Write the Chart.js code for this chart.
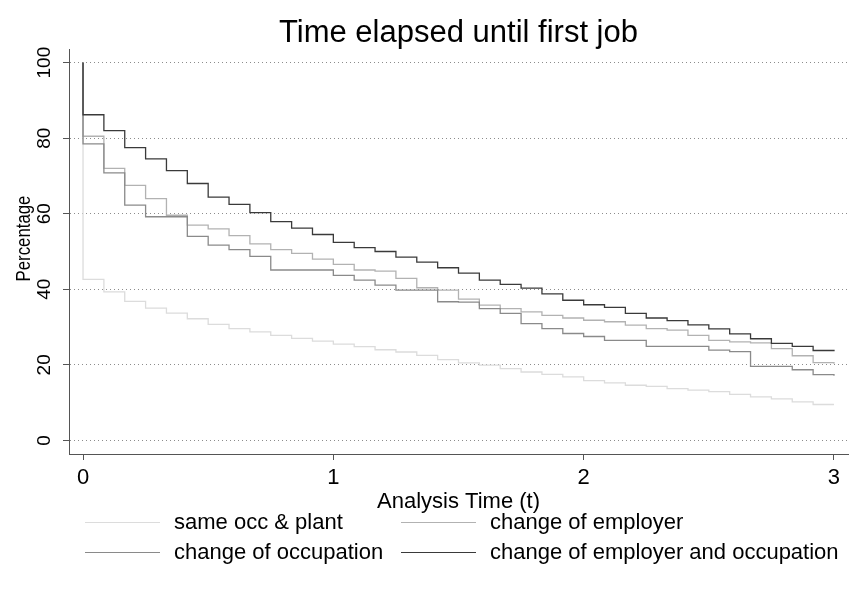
<!DOCTYPE html>
<html>
<head>
<meta charset="utf-8">
<title>Time elapsed until first job</title>
<script src="https://cdn.jsdelivr.net/npm/chart.js@4.4.1/dist/chart.umd.min.js"></script>
<style>
  body { margin: 0; background: #fff; }
  #wrap { position: relative; width: 850px; height: 594px; }
  #kmChart { display: block; }
  #legend { font-family: "Liberation Sans", Arial, sans-serif; font-size: 22px; color: #000; }
  #legend .item { position: absolute; height: 30px; display: flex; align-items: center; white-space: nowrap; }
  #legend .swatch { width: 75px; height: 0; border-top: 1.4px solid; margin-right: 14px; }
</style>
</head>
<body>
<div id="wrap">
  <canvas id="kmChart" width="850" height="594"></canvas>
  <div id="legend"></div>
</div>
<script>
// months since leaving school (0 is listed twice: start at 100 then the drop at t=0)
const months = [0, 0, 1, 2, 3, 4, 5, 6, 7, 8, 9, 10, 11, 12, 13, 14, 15, 16, 17, 18,
  19, 20, 21, 22, 23, 24, 25, 26, 27, 28, 29, 30, 31, 32, 33, 34, 35, 36];

const labels = ['same occ & plant', 'change of employer', 'change of occupation',
  'change of employer and occupation'];

// survival percentages
const sameOccPlant = [100, 42.6, 39.3, 36.8, 35.0, 33.7, 32.2, 30.7, 29.6, 28.7, 27.8,
  27.0, 26.3, 25.5, 24.8, 24.0, 23.4, 22.5, 21.4, 20.5, 19.9, 19.0, 18.1, 17.5, 16.8,
  15.8, 15.2, 14.6, 14.3, 13.7, 13.3, 12.9, 12.2, 11.5, 11.0, 10.2, 9.5, 9.5];
const changeEmployer = [100, 80.5, 72.0, 67.5, 64.0, 59.6, 57.0, 56.0, 54.2, 52.0, 50.5,
  49.5, 48.0, 46.6, 45.1, 44.8, 42.9, 40.4, 39.8, 37.4, 35.8, 34.9, 34.0, 33.1, 32.4,
  31.8, 31.4, 30.5, 29.6, 29.2, 27.8, 26.5, 26.1, 25.8, 24.3, 22.4, 20.6, 20.3];
const changeOccupation = [100, 78.5, 70.8, 62.3, 59.2, 59.2, 54.0, 51.7, 50.5, 48.7, 45.1,
  45.1, 45.1, 43.7, 42.4, 41.1, 39.8, 39.8, 36.7, 36.6, 34.9, 33.6, 30.9, 29.6, 28.3,
  27.5, 26.5, 26.5, 24.9, 24.9, 24.9, 23.9, 23.5, 19.6, 19.6, 18.7, 17.4, 17.1];
const changeBoth = [100, 86.2, 82.0, 77.5, 74.5, 71.4, 68.0, 64.4, 62.5, 60.3, 57.9,
  56.2, 54.5, 52.4, 51.0, 50.0, 48.5, 47.2, 45.7, 44.3, 42.4, 41.3, 40.3, 38.8, 37.1,
  35.9, 35.2, 33.6, 32.4, 31.7, 30.6, 29.5, 28.2, 26.9, 25.7, 24.9, 23.8, 23.6];

const xTicks = [0, 1, 2, 3];
const yTicks = [0, 20, 40, 60, 80, 100];

const series = [sameOccPlant, changeEmployer, changeOccupation, changeBoth];
const colors = ['#dcdcdc', '#b2b2b2', '#8a8a8a', '#3a3a3a'];
const titleText = 'Time elapsed until first job';
const yTitleText = 'Percentage';

const FONT = '"Liberation Sans", Arial, Helvetica, sans-serif';
const AXIS = '#555';

// time axis is in years
const toPoints = vals => vals.map((v, i) => ({ x: months[i] / 12, y: v }));

const datasets = series.map((vals, i) => ({
  label: labels[i],
  data: toPoints(vals),
  borderColor: colors[i],
  borderWidth: 1.3,
  pointRadius: 0,
  stepped: 'before',
  fill: false,
  order: series.length - i   // later curves drawn on top, like Stata
}));

// Stata centres the title over the plot region, and its y title sits a bit high
const stataTitles = {
  id: 'stataTitles',
  afterDraw(chart) {
    const { ctx, chartArea } = chart;
    ctx.save();
    ctx.font = '31px ' + FONT;
    ctx.fillStyle = '#000';
    ctx.textAlign = 'center';
    ctx.textBaseline = 'alphabetic';
    ctx.fillText(titleText, (chartArea.left + chartArea.right) / 2, chartArea.top - 7);

    ctx.translate(24, (chartArea.top + chartArea.bottom) / 2 - 13);
    ctx.rotate(-Math.PI / 2);
    ctx.scale(0.8, 1);
    ctx.font = '21px ' + FONT;
    ctx.textBaseline = 'middle';
    ctx.fillText(yTitleText, 0, 0);
    ctx.restore();
  }
};

const ctx = document.getElementById('kmChart').getContext('2d');
const kmChart = new Chart(ctx, {
  type: 'line',
  data: { datasets },
  plugins: [stataTitles],
  options: {
    responsive: false,
    animation: false,
    events: [],
    layout: { padding: { left: 0, right: 2, top: 49, bottom: 70 } },
    plugins: {
      legend: { display: false },
      tooltip: { enabled: false },
      title: { display: false }
    },
    scales: {
      x: {
        type: 'linear',
        min: -0.056,
        max: 3.056,
        afterBuildTicks: s => { s.ticks = xTicks.map(v => ({ value: v })); },
        afterFit: s => { s.height = 70; },
        border: { display: true, color: AXIS, width: 1 },
        grid: { drawOnChartArea: false, drawTicks: true, tickLength: 6, tickColor: AXIS },
        ticks: { color: '#000', padding: 5, font: { family: FONT, size: 22 }, maxRotation: 0 },
        title: {
          display: true,
          text: 'Analysis Time (t)',
          color: '#000',
          font: { family: FONT, size: 22 },
          padding: { top: 0, bottom: 9 }
        }
      },
      y: {
        type: 'linear',
        min: -3.6,
        max: 103.6,
        afterBuildTicks: s => { s.ticks = yTicks.map(v => ({ value: v })); },
        afterFit: s => { s.width = 69; },
        border: { display: true, color: AXIS, width: 1, dash: [1, 3] },
        grid: {
          color: '#8c8c8c',
          lineWidth: 1,
          tickLength: 6,
          tickColor: AXIS,
          tickBorderDash: []
        },
        ticks: {
          color: '#000',
          padding: 2,
          minRotation: 90,
          maxRotation: 90,
          crossAlign: 'center',
          font: { family: FONT, size: 19 }
        },
        title: { display: false }
      }
    }
  }
});

// two-column legend like Stata's
const legendEl = document.getElementById('legend');
const colX = [85, 401];
const rowY = [522, 552];
kmChart.data.datasets.forEach((ds, i) => {
  const item = document.createElement('div');
  item.className = 'item';
  item.style.left = colX[i % 2] + 'px';
  item.style.top = (rowY[Math.floor(i / 2)] - 15) + 'px';
  const sw = document.createElement('span');
  sw.className = 'swatch';
  sw.style.borderTopColor = ds.borderColor;
  const txt = document.createElement('span');
  txt.textContent = ds.label;
  item.appendChild(sw);
  item.appendChild(txt);
  legendEl.appendChild(item);
});
</script>
</body>
</html>
